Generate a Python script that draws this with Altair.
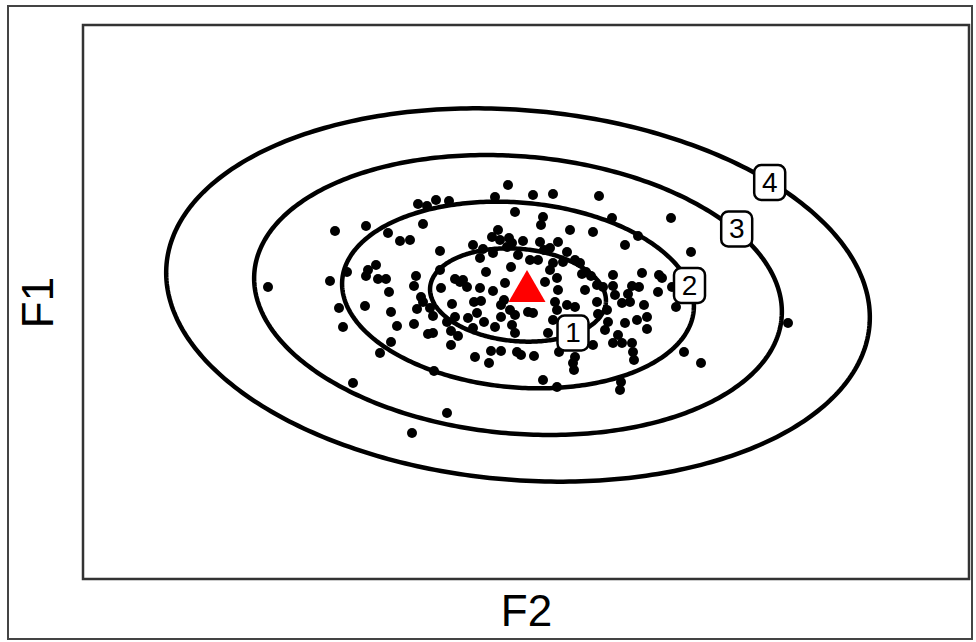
import altair as alt
import numpy as np
import pandas as pd

# Observations on the two factor axes
f2 = [-2.58, -1.96, -1.91, -1.79, -1.87, -1.83, -1.73, -1.60, -1.60, -1.58,
      -1.50, -1.61, -1.48, -1.40, -1.38, -1.37, -1.35, -1.29, -1.35, -1.46,
      -1.26, -1.16, -1.12, -1.10, -1.12, -1.14, -1.09, -1.08, -1.03, -1.05,
      -1.03, -0.99, -0.96, -0.93, -0.93, -0.92, -0.90, -0.86, -0.86, -0.85,
      -0.79, -0.79, -0.77, -0.75, -0.75, -0.74, -0.71, -0.71, -0.63, -0.59,
      -0.58, -0.53, -0.52, -0.53, -0.51, -0.49, -0.46, -0.46, -0.45, -0.43,
      -0.37, -0.35, -0.34, -0.33, -0.33, -0.31, -0.31, -0.28, -0.25, -0.25,
      -0.25, -0.21, -0.19, -0.18, -0.17, -0.16, -0.15, -0.14, -0.11, -0.11,
      -0.11, -0.09, -0.08, -0.05, -0.03, 0.02, 0.04, 0.07, 0.07, 0.08,
      0.12, 0.14, 0.15, 0.17, 0.17, 0.19, 0.22, 0.24, 0.24, 0.27,
      0.27, 0.27, 0.29, 0.31, 0.31, 0.31, 0.32, 0.32, 0.33, 0.37,
      0.41, 0.41, 0.44, 0.49, 0.49, 0.47, 0.48, 0.49, 0.54, 0.56,
      0.59, 0.65, 0.67, 0.67, 0.71, 0.71, 0.72, 0.73, 0.77, 0.79,
      0.81, 0.86, 0.87, 0.87, 0.87, 0.89, 0.95, 0.94, 0.96, 0.96,
      0.99, 0.99, 1.04, 1.06, 1.13, 1.06, 1.07, 1.08, 1.11, 1.12,
      1.16, 1.18, 1.21, 1.21, 1.33, 1.32, 1.36, 1.45, 1.46, 1.50,
      1.58, 1.65, 1.75, 2.62,
      -0.26, -0.14, -0.66, -0.40, -0.22, 0.60, 0.82, 0.92, 1.02, -0.98,
      -0.68, 0.36, 0.52, -0.42, 0.18]
f1 = [0.15, 0.21, 0.71, 0.30, -0.06, -0.25, -0.81, 0.76, 0.26, 0.32,
      0.37, -0.04, 0.23, 0.23, 0.69, 0.10, -0.10, -0.24, -0.40, -0.51,
      0.61, 0.62, 0.16, 0.26, -0.22, -1.31, -0.07, 0.98, 0.78, 0.05,
      0.00, 0.96, -0.06, -0.14, -0.31, -0.69, 1.02, 0.32, 0.51, 0.14,
      -1.11, -0.20, 1.01, -0.29, -0.43, -0.02, 0.23, -0.15, 0.22, 0.15,
      -0.16, 0.57, 0.00, -0.26, -0.55, -0.11, 0.44, 0.14, 0.01, 0.53,
      -0.61, -0.49, 0.65, 0.49, 0.11, -0.25, 1.05, 0.72, -0.03, -0.15,
      -0.49, 0.19, 0.55, 1.17, 0.64, -0.08, 0.35, -0.23, -0.31, 0.90,
      -0.13, -0.50, 0.47, -0.53, 0.61, -0.10, 0.42, -0.11, 1.07, -0.54,
      0.42, 0.60, 0.77, 0.85, -0.78, 0.20, -0.31, 0.54, 0.32, 1.08,
      0.39, -0.18, 0.00, 0.24, -0.08, -0.85, 0.60, 0.12, -0.50, 0.40,
      0.50, -0.03, 0.72, -0.05, -0.55, -0.61, -0.68, 0.42, 0.39, 0.28,
      0.12, 0.26, 0.70, -0.43, 0.17, 0.00, -0.12, 1.06, 0.15, -0.28,
      -0.08, 0.84, 0.27, 0.16, -0.41, 0.07, -0.80, -0.88, -0.01, -0.41,
      0.57, -0.21, 0.00, 0.16, 0.15, -0.41, -0.50, -0.58, -0.18, 0.66,
      0.29, -0.03, -0.15, -0.27, 0.27, 0.10, 0.24, 0.84, 0.15, -0.05,
      -0.50, 0.50, -0.61, -0.21,
      0.62, 0.59, 0.20, 0.30, 0.02, 0.30, -0.20, -0.33, 0.08, -0.32,
      -0.34, -0.30, -0.22, -0.20, 0.52]

# Group centroid
centroid_f2 = [0.01]
centroid_f1 = [0.16]

# Concentric ellipses: centre, base semi-axes, tilt (degrees) and multiples
ell_center = (-0.08, 0.07)
ell_axes = (0.882, 0.462)
ell_tilt = -5.0
ell_levels = [1, 2, 3, 4]

# Level tags drawn on the ellipses
tag_text = ["1", "2", "3", "4"]
tag_f2 = [0.47, 1.635, 2.107, 2.437]
tag_f1 = [-0.31, 0.165, 0.73, 1.195]

pts = pd.DataFrame({"F2": f2, "F1": f1})
cen = pd.DataFrame({"F2": centroid_f2, "F1": centroid_f1})
tags = pd.DataFrame({"F2": tag_f2, "F1": tag_f1, "tag": tag_text})

t = np.linspace(0, 2 * np.pi, 361)
th = np.deg2rad(ell_tilt)
rows = []
for k in ell_levels:
    ex = k * ell_axes[0] * np.cos(t)
    ey = k * ell_axes[1] * np.sin(t)
    xs = ell_center[0] + ex * np.cos(th) - ey * np.sin(th)
    ys = ell_center[1] + ex * np.sin(th) + ey * np.cos(th)
    for i, (a, b) in enumerate(zip(xs, ys)):
        rows.append({"F2": a, "F1": b, "level": k, "i": i})
ell = pd.DataFrame(rows)

xs_ = alt.Scale(domain=[-4.43, 4.43], nice=False, zero=False)
ys_ = alt.Scale(domain=[-2.77, 2.77], nice=False, zero=False)
X = alt.X("F2:Q", scale=xs_,
          axis=alt.Axis(title="F2", labels=False, ticks=False, grid=False,
                        domain=False, titlePadding=11))
Y = alt.Y("F1:Q", scale=ys_,
          axis=alt.Axis(title="F1", labels=False, ticks=False, grid=False,
                        domain=False, titlePadding=22))

ellipses = alt.Chart(ell).mark_line(color="black", strokeWidth=4.5).encode(
    x=X, y=Y, detail="level:N", order="i:Q")

dots = alt.Chart(pts).mark_circle(color="black", size=100, opacity=1).encode(
    x=X, y=Y)

centroid = alt.Chart(cen).mark_point(
    shape="triangle-up", filled=True, color="#ff0000", size=1369, opacity=1
).encode(x=X, y=Y)

boxes = alt.Chart(tags).mark_rect(
    fill="white", stroke="black", strokeWidth=2.5, cornerRadius=7,
    xOffset=-15.5, x2Offset=15.5, yOffset=-17.5, y2Offset=17.5
).encode(x=X, x2="F2:Q", y=Y, y2="F1:Q")

labels = alt.Chart(tags).mark_text(
    font="Liberation Sans", fontSize=28, color="black",
    align="center", baseline="middle", dy=1
).encode(x=X, y=Y, text="tag:N")

frame = alt.Chart(tags).mark_rect(
    fillOpacity=0, stroke="#444444", strokeWidth=2
).encode(x=alt.value(-75), x2=alt.value(889), y=alt.value(-19), y2=alt.value(614))

chart = alt.layer(ellipses, dots, centroid, boxes, labels, frame).properties(
    width=886, height=554,
    autosize=alt.AutoSizeParams(type="none"),
    padding={"left": 83, "top": 25, "right": 7, "bottom": 63},
    background="white",
).configure_view(
    stroke="#333333", strokeWidth=2.5
).configure_axis(
    titleFont="Liberation Sans", titleFontSize=44, titleFontWeight="normal",
    titleColor="black"
)

chart.save("out.html", embed_options={"renderer": "svg", "actions": False})
